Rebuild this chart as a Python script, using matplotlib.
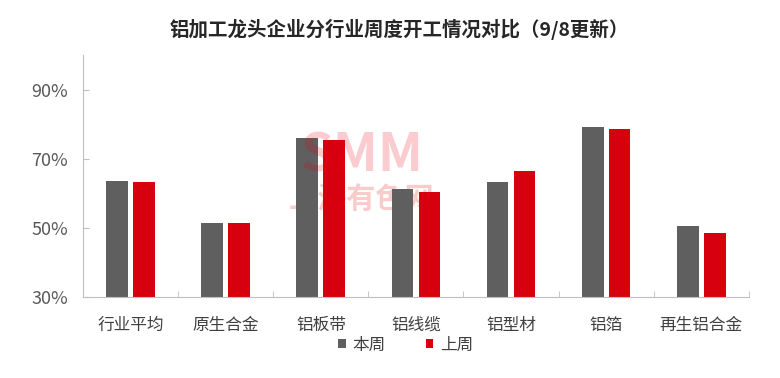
import matplotlib
matplotlib.use("Agg")
import matplotlib.pyplot as plt
import numpy as np

plt.rcParams['font.family'] = ['Noto Sans CJK SC', 'DejaVu Sans']

# 数据
categories = ['行业平均', '原生合金', '铝板带', '铝线缆', '铝型材', '铝箔', '再生铝合金']
this_week = [63.5, 51.4, 76.0, 61.3, 63.3, 79.1, 50.6]
last_week = [63.3, 51.4, 75.5, 60.4, 66.4, 78.5, 48.6]
y_ticks = [30, 50, 70, 90]

fig = plt.figure(figsize=(7.8, 3.78), dpi=100)
ax = fig.add_axes([0.1068, 0.2135, 0.853, 0.641])

x = np.arange(len(categories))
w = 0.23
off = 0.142

# 水印: SMM 在柱子上面(半透明), 上海有色网 在柱子后面
ax.text(0.464, 0.588, 'SMM', transform=fig.transFigure, fontsize=38, fontweight='bold',
        color='#e8000f', alpha=0.2, ha='center', va='center', zorder=5)
ax.text(0.464, 0.474, '上海有色网', transform=fig.transFigure, fontsize=21,
        fontweight='bold', color='#f9cccc', ha='center', va='center', zorder=1)

ax.bar(x - off, this_week, w, color='#5f5f5f', label='本周', zorder=2)
ax.bar(x + off, last_week, w, color='#d7000f', label='上周', zorder=2)

ax.set_ylim(30, 100)
ax.set_xlim(-0.5, len(categories) - 0.5)
ax.set_yticks(y_ticks)
ax.set_yticklabels([f'{v}%' for v in y_ticks], fontsize=13, color='#595959')
ax.set_xticks(x)
ax.set_xticklabels(categories, fontsize=12, color='#404040')
ax.tick_params(axis='x', which='major', length=0, pad=14)
ax.set_xticks(np.arange(0.5, len(categories) - 0.4, 1), minor=True)
ax.tick_params(axis='x', which='minor', length=4, color='#bfbfbf', direction='in')
ax.tick_params(axis='y', length=4, color='#bfbfbf', direction='in', pad=11)

for s in ['top', 'right']:
    ax.spines[s].set_visible(False)
ax.spines['left'].set_color('#bfbfbf')
ax.spines['bottom'].set_color('#bfbfbf')

fig.suptitle('铝加工龙头企业分行业周度开工情况对比（9/8更新）', fontsize=14,
             fontweight='bold', color='#262626', x=0.512, y=0.95)

fig.legend(loc='center', bbox_to_anchor=(0.52, 0.087), ncol=2, frameon=False,
           fontsize=12, handlelength=0.45, handleheight=0.45, handletextpad=0.4,
           columnspacing=2.4, labelcolor='#404040')

fig.savefig('out.png', dpi=100)
